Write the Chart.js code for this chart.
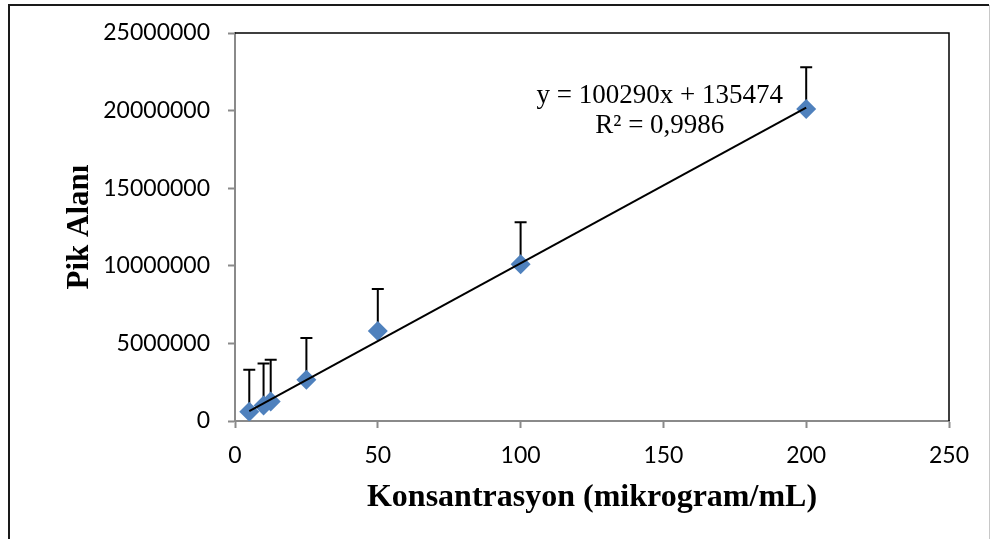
<!DOCTYPE html>
<html>
<head>
<meta charset="utf-8">
<script src="https://cdn.jsdelivr.net/npm/chart.js@4.4.0/dist/chart.umd.min.js"></script>
<style>
  html, body { margin: 0; padding: 0; background: #fff; }
  #wrap { width: 991px; height: 539px; position: relative; }
</style>
</head>
<body>
<div id="wrap"><canvas id="c" width="991" height="539"></canvas></div>
<script>
// Calibration data: concentration (µg/mL) vs. peak area
const concentrations = [5, 10, 12.5, 25, 50, 100, 200];
const peakAreas = [600000, 1000000, 1250000, 2650000, 5800000, 10100000, 20100000];
const errorPlus = [2700000, 2700000, 2700000, 2700000, 2700000, 2700000, 2700000];

// Axis ticks
const xTickValues = [0, 50, 100, 150, 200, 250];
const yTickValues = [0, 5000000, 10000000, 15000000, 20000000, 25000000];

// Linear fit reported on the chart
const fitSlope = 100290;
const fitIntercept = 135474;
const fitR2Text = '0,9986';

const xMin = Math.min(...concentrations);
const xMax = Math.max(...concentrations);
const trendPoints = [
  { x: xMin, y: fitSlope * xMin + fitIntercept },
  { x: xMax, y: fitSlope * xMax + fitIntercept }
];
const scatterPoints = concentrations.map((x, i) => ({ x, y: peakAreas[i] }));

const AXIS_GRAY = '#8a8a8a';
const TICK_FONT = { family: 'Lato, "Open Sans", sans-serif', size: 23 };
const SERIF = '"Liberation Serif", "DejaVu Serif", serif';

// White background, outer frame and black top/right edges of the plot area
const framePlugin = {
  id: 'frame',
  beforeDraw(chart) {
    const { ctx, width, height } = chart;
    ctx.save();
    ctx.fillStyle = '#fff';
    ctx.fillRect(0, 0, width, height);
    ctx.strokeStyle = '#1a1a1a';
    ctx.lineWidth = 2;
    ctx.beginPath();
    ctx.moveTo(9, height);
    ctx.lineTo(9, 5);
    ctx.lineTo(989, 5);
    ctx.stroke();
    ctx.strokeStyle = '#c8c8c8';
    ctx.lineWidth = 1;
    ctx.beginPath();
    ctx.moveTo(989.5, 5);
    ctx.lineTo(989.5, height);
    ctx.stroke();
    ctx.restore();
  },
  beforeDatasetsDraw(chart) {
    const { ctx, chartArea: a } = chart;
    ctx.save();
    ctx.strokeStyle = '#000';
    ctx.lineWidth = 1.5;
    ctx.beginPath();
    ctx.moveTo(a.left, a.top);
    ctx.lineTo(a.right, a.top);
    ctx.lineTo(a.right, a.bottom);
    ctx.stroke();
    ctx.restore();
  }
};

// Positive error bars with caps, drawn beneath the markers
const errorBarPlugin = {
  id: 'errorBars',
  beforeDatasetsDraw(chart) {
    const { ctx, scales: { x, y } } = chart;
    ctx.save();
    ctx.strokeStyle = '#000';
    ctx.lineWidth = 2;
    concentrations.forEach((c, i) => {
      const px = x.getPixelForValue(c);
      const py0 = y.getPixelForValue(peakAreas[i]);
      const py1 = y.getPixelForValue(peakAreas[i] + errorPlus[i]);
      ctx.beginPath();
      ctx.moveTo(px, py0);
      ctx.lineTo(px, py1);
      ctx.moveTo(px - 6, py1);
      ctx.lineTo(px + 6, py1);
      ctx.stroke();
    });
    ctx.restore();
  }
};

// Regression equation label
const equationPlugin = {
  id: 'equation',
  afterDatasetsDraw(chart) {
    const { ctx, chartArea: a } = chart;
    const cx = a.left + (a.right - a.left) * 0.595;
    const by = a.top + (a.bottom - a.top) * 0.18;
    ctx.save();
    ctx.fillStyle = '#000';
    ctx.font = '27px ' + SERIF;
    ctx.textAlign = 'center';
    ctx.textBaseline = 'alphabetic';
    const sign = fitIntercept >= 0 ? '+' : '−';
    ctx.fillText('y = ' + fitSlope + 'x ' + sign + ' ' + Math.abs(fitIntercept), cx, by);
    ctx.fillText('R² = ' + fitR2Text, cx, by + 30);
    ctx.restore();
  }
};

new Chart(document.getElementById('c'), {
  type: 'scatter',
  data: {
    datasets: [
      {
        label: 'Doğrusal',
        type: 'line',
        data: trendPoints,
        borderColor: '#000',
        borderWidth: 2,
        pointRadius: 0,
        fill: false,
        tension: 0
      },
      {
        label: 'Pik Alanı',
        data: scatterPoints,
        pointStyle: 'rectRot',
        pointRadius: 10,
        pointHoverRadius: 10,
        backgroundColor: '#4f81bd',
        borderColor: '#4f81bd',
        borderWidth: 0
      }
    ]
  },
  options: {
    responsive: false,
    animation: false,
    devicePixelRatio: 1,
    layout: { padding: { left: 0, top: 33, right: 42, bottom: 0 } },
    plugins: {
      legend: { display: false },
      tooltip: { enabled: false }
    },
    scales: {
      x: {
        type: 'linear',
        min: 0,
        max: 250,
        afterBuildTicks(scale) { scale.ticks = xTickValues.map(v => ({ value: v })); },
        afterFit(scale) { scale.height = 118; },
        ticks: { font: TICK_FONT, color: '#000', padding: 14, maxRotation: 0 },
        grid: { drawOnChartArea: false, drawTicks: true, tickLength: 7, tickColor: AXIS_GRAY, tickWidth: 2 },
        border: { color: AXIS_GRAY, width: 2 },
        title: {
          display: true,
          text: 'Konsantrasyon (mikrogram/mL)',
          font: { family: SERIF, size: 32, weight: 'bold' },
          color: '#000',
          padding: { top: 0, bottom: 22 }
        }
      },
      y: {
        type: 'linear',
        min: 0,
        max: 25000000,
        afterBuildTicks(scale) { scale.ticks = yTickValues.map(v => ({ value: v })); },
        afterFit(scale) { scale.width = 235; },
        ticks: { font: TICK_FONT, color: '#000', padding: 18, callback: v => String(v) },
        grid: { drawOnChartArea: false, drawTicks: true, tickLength: 7, tickColor: AXIS_GRAY, tickWidth: 2 },
        border: { color: AXIS_GRAY, width: 2 },
        title: {
          display: true,
          text: 'Pik Alanı',
          font: { family: SERIF, size: 31, weight: 'bold' },
          color: '#000',
          padding: { top: 61, bottom: 0 }
        }
      }
    }
  },
  plugins: [framePlugin, errorBarPlugin, equationPlugin]
});
</script>
</body>
</html>
